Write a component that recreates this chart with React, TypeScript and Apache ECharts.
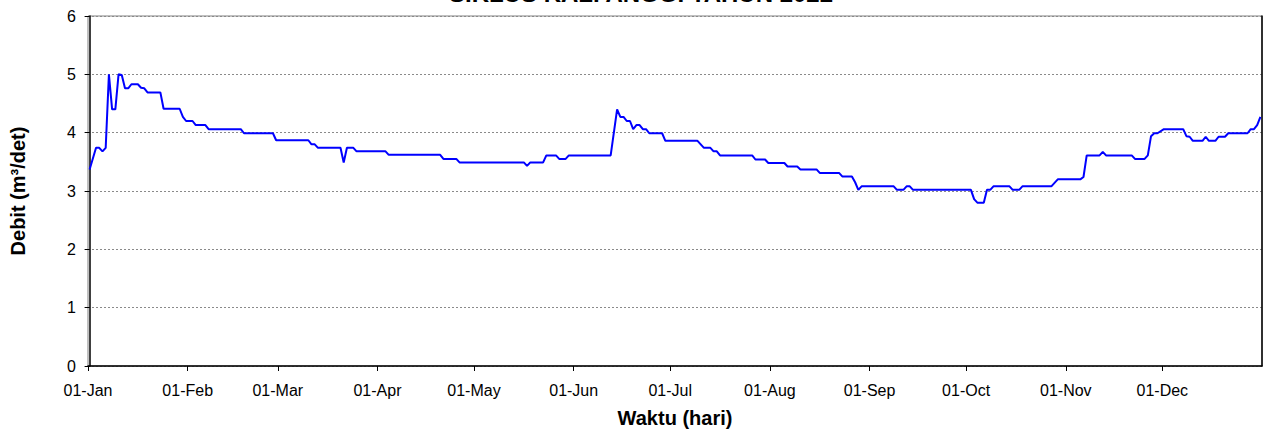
import React, { useEffect, useRef } from "react";
import * as echarts from "echarts";

// Day of year (0 = 01-Jan) and discharge (m3/det) at each change point
const dayIndex = [
  0, 2, 3, 4, 5, 6, 7, 8, 9, 10, 11, 12, 13, 15, 16, 17, 18, 22, 23, 28, 29, 30, 32, 33, 36, 37, 47, 48, 57, 58,
  68, 69, 70, 71, 78, 79, 80, 82, 83, 92, 93, 109, 110, 114, 115, 135, 136, 137, 141, 142, 145, 146, 148, 149,
  162, 164, 165, 166, 167, 168, 169, 170, 171, 172, 173, 174, 178, 179, 189, 191, 193, 194, 195, 196, 206, 207,
  210, 211, 216, 217, 220, 221, 226, 227, 233, 234, 237, 238, 239, 240, 250, 251, 253, 254, 255, 256, 274, 275,
  276, 278, 279, 280, 281, 286, 287, 289, 290, 299, 301, 308, 309, 310, 314, 315, 316, 324, 325, 328, 329, 330,
  331, 332, 334, 340, 341, 342, 343, 346, 347, 348, 350, 351, 353, 354, 360, 361, 362, 363, 364,
];
const debit = [
  3.37, 3.74, 3.74, 3.68, 3.74, 5.0, 4.4, 4.4, 5.0, 4.99, 4.76, 4.76, 4.83, 4.83, 4.77, 4.76, 4.69, 4.69, 4.41, 4.41,
  4.27, 4.2, 4.2, 4.13, 4.13, 4.06, 4.06, 3.99, 3.99, 3.87,
  3.87, 3.8, 3.8, 3.74, 3.74, 3.49, 3.74, 3.74, 3.68, 3.68, 3.62, 3.62, 3.55, 3.55, 3.49, 3.49, 3.43, 3.49, 3.49,
  3.61, 3.61, 3.55, 3.55, 3.61,
  3.61, 4.4, 4.27, 4.27, 4.2, 4.2, 4.06, 4.13, 4.13, 4.06, 4.06, 3.99, 3.99, 3.86, 3.86, 3.74, 3.74, 3.68, 3.68,
  3.61, 3.61, 3.54,
  3.54, 3.48, 3.48, 3.42, 3.42, 3.37, 3.37, 3.31, 3.31, 3.25, 3.25, 3.15, 3.02, 3.08, 3.08, 3.02, 3.02, 3.08, 3.08,
  3.02, 3.02, 2.86,
  2.8, 2.8, 3.02, 3.02, 3.08, 3.08, 3.02, 3.02, 3.08, 3.08, 3.2, 3.2, 3.24, 3.61, 3.61, 3.67, 3.61, 3.61, 3.55,
  3.55, 3.61, 3.94,
  3.99, 3.99, 4.06, 4.06, 3.94, 3.93, 3.86, 3.86, 3.93, 3.86, 3.86, 3.93, 3.93, 3.99, 3.99, 4.06, 4.06, 4.13, 4.27,
];

const monthStartDays = [0, 31, 59, 90, 120, 151, 181, 212, 243, 273, 304, 334];
const monthLabels = [
  "01-Jan", "01-Feb", "01-Mar", "01-Apr", "01-May", "01-Jun",
  "01-Jul", "01-Aug", "01-Sep", "01-Oct", "01-Nov", "01-Dec",
];
const yMin = 0;
const yMax = 6;
const yStep = 1;

const chartTitle = "SIKLUS KALI ANGGI TAHUN 2022";
const xName = "Waktu (hari)";
const yName = "Debit (m³/det)";

const FONT = "'Liberation Sans', Arial, sans-serif";

export default function App() {
  const ref = useRef<HTMLDivElement>(null);

  useEffect(() => {
    if (!ref.current) return;
    const chart = echarts.init(ref.current, null, { renderer: "svg" });
    const tickPos = monthStartDays.map((d) => d - 0.5);
    const labelFor = (v: number) => {
      let best = 0;
      let bd = Infinity;
      tickPos.forEach((t, i) => {
        const dd = Math.abs(t - v);
        if (dd < bd) {
          bd = dd;
          best = i;
        }
      });
      return monthLabels[best];
    };
    chart.setOption({
      animation: false,
      textStyle: { fontFamily: FONT },
      graphic: [
        {
          type: "text",
          x: 641,
          y: 5,
          style: {
            text: chartTitle,
            font: `bold 24px ${FONT}`,
            fill: "#000",
            textAlign: "center",
            textVerticalAlign: "bottom",
          },
        },
      ],
      grid: {
        left: 86,
        right: 1,
        top: 16,
        bottom: 70,
        show: true,
        borderColor: "#808080",
        borderWidth: 1,
        backgroundColor: "transparent",
      },
      xAxis: {
        type: "value",
        min: -0.5,
        max: 364.5,
        name: xName,
        nameLocation: "middle",
        nameGap: 42,
        nameTextStyle: { fontFamily: FONT, fontSize: 20, fontWeight: "bold", color: "#000" },
        axisLine: { show: true, onZero: false, lineStyle: { color: "#000", width: 1.5 } },
        axisTick: { show: true, length: 5, customValues: tickPos, lineStyle: { color: "#000" } },
        axisLabel: {
          customValues: tickPos,
          formatter: (v: number) => labelFor(v),
          fontFamily: FONT,
          fontSize: 16,
          color: "#000",
          margin: 16,
        },
        splitLine: { show: false },
      },
      yAxis: [
        {
          type: "value",
          min: yMin,
          max: yMax,
          interval: yStep,
          name: yName,
          nameLocation: "middle",
          nameGap: 60,
          nameTextStyle: { fontFamily: FONT, fontSize: 20, fontWeight: "bold", color: "#000" },
          axisLine: { show: true, lineStyle: { color: "#000", width: 1.5 } },
          axisTick: { show: true, length: 5, lineStyle: { color: "#000" } },
          axisLabel: { fontFamily: FONT, fontSize: 16, color: "#000", margin: 12 },
          splitLine: { show: true, lineStyle: { color: "#8a8a8a", width: 1, type: [2, 2] } },
        },
        {
          type: "value",
          min: yMin,
          max: yMax,
          interval: yStep,
          position: "right",
          axisLine: { show: true, lineStyle: { color: "#000", width: 1.5 } },
          axisTick: { show: false },
          axisLabel: { show: false },
          splitLine: { show: false },
        },
      ],
      series: [
        {
          type: "line",
          data: dayIndex.map((d, i) => [d, debit[i]]),
          showSymbol: false,
          symbol: "none",
          lineStyle: { color: "#0000ff", width: 2 },
          itemStyle: { color: "#0000ff" },
          clip: false,
        },
      ],
    });
    return () => chart.dispose();
  }, []);

  return (
    <div
      ref={ref}
      style={{ position: "fixed", left: 0, top: 0, width: 1263, height: 436, background: "#fff" }}
    />
  );
}
